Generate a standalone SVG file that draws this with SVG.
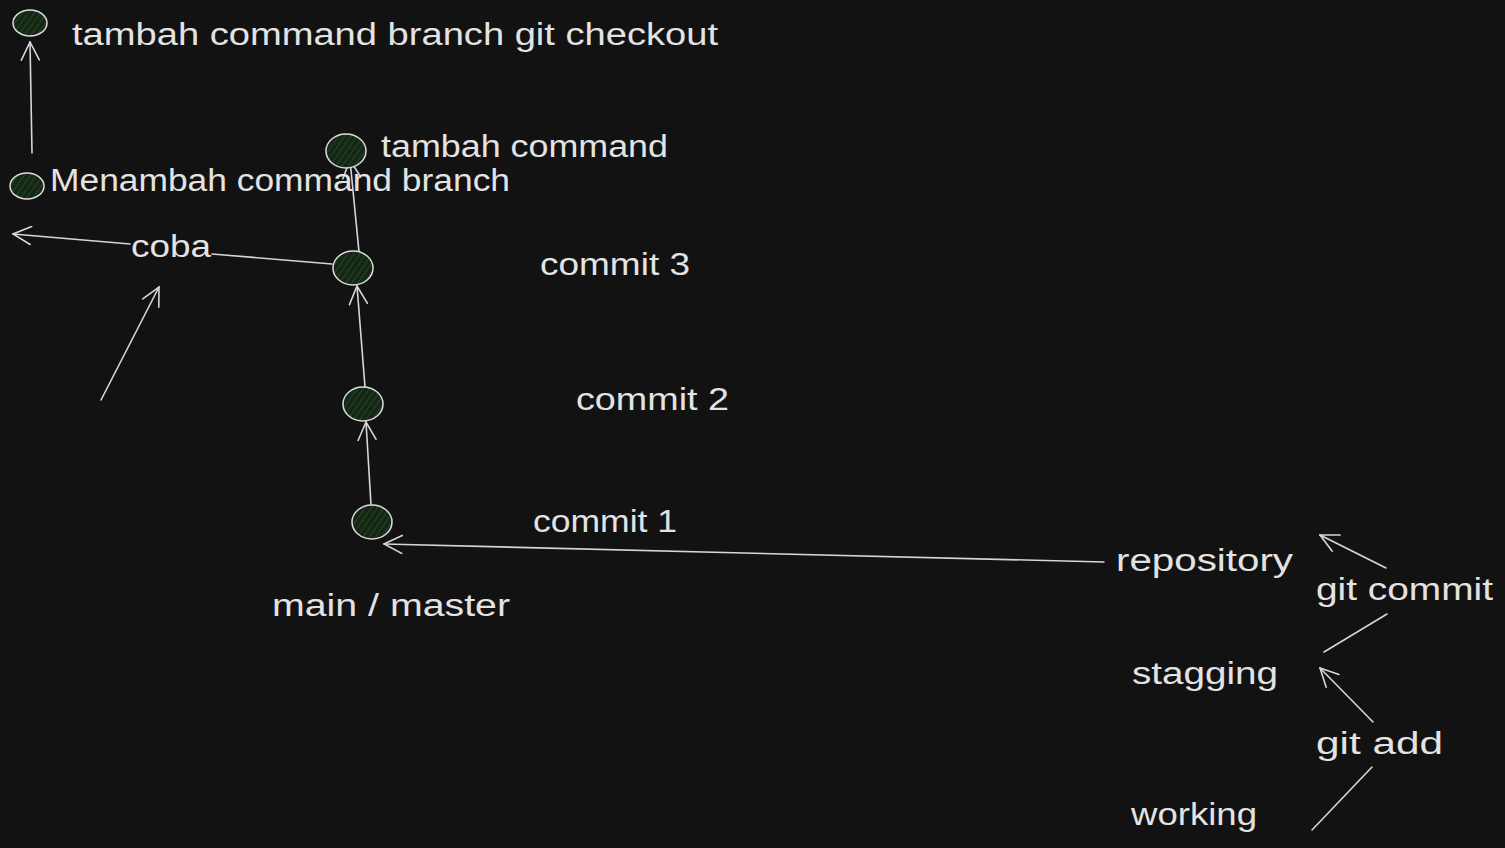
<svg xmlns="http://www.w3.org/2000/svg" width="1505" height="848" viewBox="0 0 1505 848">
<defs>
<pattern id="hatch" patternUnits="userSpaceOnUse" width="5" height="5" patternTransform="rotate(35)">
<rect width="5" height="5" fill="#152615"/>
<line x1="0" y1="0" x2="0" y2="5" stroke="#2b5a2e" stroke-width="1.2"/>
</pattern>
<marker id="arr" markerWidth="20" markerHeight="20" refX="1" refY="10" orient="auto" markerUnits="userSpaceOnUse">
<path d="M19,1 L1,10 L19,19" fill="none" stroke="#d6d6d6" stroke-width="1.6" stroke-linecap="round"/>
</marker>
</defs>
<style>
.bg{fill:#121212}
.node{fill:url(#hatch);stroke:#dcdcdc;stroke-width:1.5}
.t{font-family:"Liberation Sans","Open Sans",sans-serif;font-size:31px;fill:#e3e3e3}
.c{fill:none;stroke:#d6d6d6;stroke-width:1.6;stroke-linecap:round}
.ca{fill:none;stroke:#d6d6d6;stroke-width:1.6;stroke-linecap:round;marker-start:url(#arr)}
</style>
<rect class="bg" width="1505" height="848"/>
<g id="connectors">
<path class="ca" d="M30,42 L32,153"/>
<path class="ca" d="M350,160 L360,262"/>
<path class="ca" d="M357,286 L365,387"/>
<path class="ca" d="M366,422 L371,505"/>
<path class="ca" d="M13,234 L130,244"/>
<path class="c" d="M212,254 L332,264"/>
<path class="ca" d="M159,287 L101,400"/>
<path class="ca" d="M384,544 L1104,562"/>
<path class="ca" d="M1320,535 L1386,568"/>
<path class="c" d="M1387,614 L1324,652"/>
<path class="ca" d="M1320,668 L1373,722"/>
<path class="c" d="M1372,767 L1312,830"/>
</g>
<g id="node-checkout"><ellipse class="node" cx="30" cy="23" rx="17" ry="13"/><text class="t" x="72" y="45" textLength="646" lengthAdjust="spacingAndGlyphs">tambah command branch git checkout</text></g>
<g id="node-menambah"><ellipse class="node" cx="27" cy="186" rx="17" ry="13"/><text class="t" x="50" y="191" textLength="460" lengthAdjust="spacingAndGlyphs">Menambah command branch</text></g>
<g id="node-tambah"><ellipse class="node" cx="346" cy="151" rx="20" ry="17"/><text class="t" x="381" y="157" textLength="287" lengthAdjust="spacingAndGlyphs">tambah command</text></g>
<g id="node-commit3"><ellipse class="node" cx="353" cy="268" rx="20" ry="17"/><text class="t" x="540" y="275" textLength="150" lengthAdjust="spacingAndGlyphs">commit 3</text></g>
<g id="node-commit2"><ellipse class="node" cx="363" cy="404" rx="20" ry="17"/><text class="t" x="576" y="410" textLength="153" lengthAdjust="spacingAndGlyphs">commit 2</text></g>
<g id="node-commit1"><ellipse class="node" cx="372" cy="522" rx="20" ry="17"/><text class="t" x="533" y="532" textLength="144" lengthAdjust="spacingAndGlyphs">commit 1</text></g>
<g id="label-coba"><text class="t" x="131" y="257" textLength="80" lengthAdjust="spacingAndGlyphs">coba</text></g>
<g id="label-main"><text class="t" x="272" y="616" textLength="238" lengthAdjust="spacingAndGlyphs">main / master</text></g>
<g id="label-repository"><text class="t" x="1116" y="571" textLength="177" lengthAdjust="spacingAndGlyphs">repository</text></g>
<g id="label-gitcommit"><text class="t" x="1316" y="600" textLength="177" lengthAdjust="spacingAndGlyphs">git commit</text></g>
<g id="label-stagging"><text class="t" x="1132" y="684" textLength="146" lengthAdjust="spacingAndGlyphs">stagging</text></g>
<g id="label-gitadd"><text class="t" x="1316" y="754" textLength="127" lengthAdjust="spacingAndGlyphs">git add</text></g>
<g id="label-working"><text class="t" x="1131" y="825" textLength="126" lengthAdjust="spacingAndGlyphs">working</text></g>
</svg>
